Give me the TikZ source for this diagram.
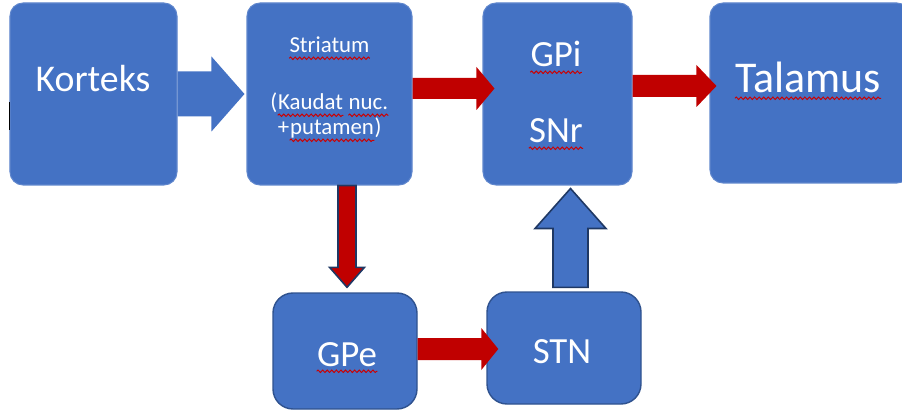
\documentclass[tikz,border=0pt]{standalone}
\usepackage{fontspec}
\setmainfont{Carlito}
\usepackage{tikz}
\usetikzlibrary{calc, positioning, decorations.pathmorphing}

\definecolor{boxblue}{HTML}{4472C4}
\definecolor{boxline}{HTML}{2F528F}
\definecolor{arrowred}{HTML}{C00000}
\definecolor{navyline}{HTML}{1F3864}

% block arrow: [style]{tail}{tip}{angle}{shaft width}{head width}{head length}
\newcommand{\fatarrow}[7][]{%
  \path[#1] let \p1=(#2), \p2=(#3), \n1={veclen(\x2-\x1,\y2-\y1)} in
    [shift={(\p1)}, rotate=#4]
    (0,-#5/2) -- (\n1-#7,-#5/2) -- (\n1-#7,-#6/2) -- (\n1,0)
    -- (\n1-#7,#6/2) -- (\n1-#7,#5/2) -- (0,#5/2) -- cycle;}

\begin{document}
\begin{tikzpicture}[
    box/.style={draw=boxblue!85!white, line width=0.6pt, fill=boxblue, rectangle, rounded corners=0.26cm, minimum height=3.64cm},
    lowbox/.style={draw=boxline, line width=0.8pt, fill=boxblue, rectangle, rounded corners=0.4cm},
    lbl/.style={text=white, inner sep=0pt, anchor=base},
    small/.style={font=\fontsize{13}{15}\selectfont},
    big/.style={font=\fontsize{21}{24}\selectfont},
    squiggle/.style={draw=red!80!black, line width=0.55pt, decorate, decoration={snake, segment length=2.6pt, amplitude=0.7pt}},
    bluearrow/.style={fill=boxblue},
    bluearrowline/.style={fill=boxblue, draw=navyline, line width=0.9pt},
    redarrow/.style={fill=arrowred},
    redarrowline/.style={fill=arrowred, draw=navyline, line width=0.9pt}
]
    \clip (0,0) rectangle (18.04,8.28);

    % Boxes
    \node[box, minimum width=3.34cm] (korteks) at (1.87,6.4) {};
    \node[box, minimum width=3.30cm] (striatum) at (6.59,6.4) {};
    \node[box, minimum width=2.98cm] (gpi) at (11.15,6.4) {};
    \node[box, minimum width=4.0cm, minimum height=3.6cm] (talamus) at (16.2,6.42) {};
    \node[lowbox, minimum width=2.88cm, minimum height=2.32cm] (gpe) at (6.9,1.26) {};
    \node[lowbox, minimum width=3.08cm, minimum height=2.24cm] (stn) at (11.28,1.32) {};

    \draw[black, line width=1.1pt] (0.19,6.24) -- (0.19,5.68);

    % Arrow ends
    \coordinate (st-in) at ($(striatum.west)+(-0.04,0)$);
    \coordinate (st-out) at ($(striatum.east)+(0,0.11)$);
    \coordinate (gpi-in) at ($(st-out -| gpi.west)+(0.24,0)$);
    \coordinate (gpi-out) at ($(gpi.east)+(0,0.16)$);
    \coordinate (tal-in) at ($(gpi-out -| talamus.west)+(0.14,0)$);
    \coordinate (st-down) at ($(striatum.south -| gpe.north)+(0.04,0)$);
    \coordinate (gpe-in) at ($(gpe.north)+(0.04,0.10)$);
    \coordinate (gpe-out) at ($(gpe.east)+(0,0.04)$);
    \coordinate (stn-in) at ($(gpe-out -| stn.west)+(0.24,0)$);
    \coordinate (stn-out) at ($(stn.north)+(0.13,0.08)$);
    \coordinate (gpi-low) at ($(stn-out |- gpi.south)+(0,-0.06)$);

    % Arrows
    \fatarrow[bluearrow]{korteks.east}{st-in}{0}{0.9cm}{1.5cm}{0.66cm}
    \fatarrow[redarrow]{st-out}{gpi-in}{0}{0.42cm}{0.86cm}{0.36cm}
    \fatarrow[redarrow]{gpi-out}{tal-in}{0}{0.44cm}{0.84cm}{0.4cm}
    \fatarrow[redarrowline]{st-down}{gpe-in}{-90}{0.36cm}{0.7cm}{0.4cm}
    \fatarrow[redarrow]{gpe-out}{stn-in}{0}{0.44cm}{0.84cm}{0.34cm}
    \fatarrow[bluearrowline]{stn-out}{gpi-low}{90}{0.7cm}{1.42cm}{0.8cm}

    % Labels
    \node[lbl, font=\fontsize{21.5}{24}\selectfont] (korteks-txt) at ($(korteks)+(-0.01,0.04)$) {Korteks};
    \node[lbl, small] (striatum-txt) at ($(striatum)+(0,0.82)$) {Striatum};
    \node[lbl, small] (kaudat-txt) at ($(striatum)+(-0.38,-0.32)$) {Kaudat};
    \node[lbl, small, anchor=base east] (kaudat-paren) at (kaudat-txt.base west) {(};
    \node[lbl, small, anchor=base west] (nuc-txt) at ([xshift=2.9pt]kaudat-txt.base east) {nuc.};
    \node[lbl, small] (putamen-txt) at ($(striatum)+(0.05,-0.82)$) {putamen};
    \node[lbl, small, anchor=base east] (putamen-plus) at (putamen-txt.base west) {+};
    \node[lbl, small, anchor=base west] (putamen-paren) at (putamen-txt.base east) {)};
    \node[lbl, big] (gpi-txt) at ($(gpi)+(-0.03,0.54)$) {GPi};
    \node[lbl, big] (snr-txt) at ($(gpi)+(-0.03,-0.98)$) {SNr};
    \node[lbl, font=\fontsize{25}{28}\selectfont] (talamus-txt) at ($(talamus)+(-0.04,0)$) {Talamus};
    \node[lbl, big] (gpe-txt) at ($(gpe)+(0.04,-0.30)$) {GPe};
    \node[lbl, big] (stn-txt) at ($(stn)+(-0.04,-0.30)$) {STN};

    % Spell-check marks
    \foreach \w in {striatum-txt, kaudat-txt, nuc-txt, putamen-txt, gpi-txt, snr-txt, talamus-txt, gpe-txt}
        \draw[squiggle] ([yshift=-3pt]\w.base west) -- ([yshift=-3pt]\w.base east);
\end{tikzpicture}
\end{document}
